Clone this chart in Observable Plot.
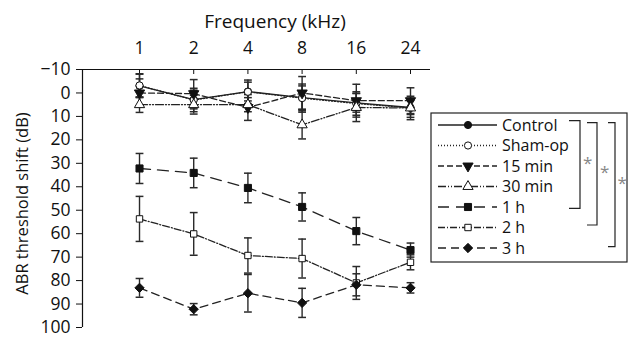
<!DOCTYPE html>
<html><head><meta charset="utf-8">
<script src="https://cdn.jsdelivr.net/npm/d3@7"></script>
<script src="https://cdn.jsdelivr.net/npm/@observablehq/plot@0.6"></script>
<style>body{margin:0;background:#fff;} svg{overflow:visible}</style>
</head><body><div id="chart"></div>
<script>
// ---- data ----
const freqLabels = ["1", "2", "4", "8", "16", "24"];
const seriesNames = ["Control", "Sham-op", "15 min", "30 min", "1 h", "2 h", "3 h"];
const control    = [-3.0, 2.8, -0.6, 2.0, 4.2, 6.2];
const controlErr = [5, 4, 4, 5, 4, 3];
const shamOp     = [-3.2, 3.0, -0.5, 2.2, 4.5, 6.4];
const shamOpErr  = [5, 5, 5, 6, 5, 4];
const min15      = [0, 0.3, 6.2, 0, 3.3, 3.3];
const min15Err   = [6, 6, 5.5, 7, 7, 5.5];
const min30      = [5, 5, 5, 13.6, 6.2, 6.4];
const min30Err   = [3.3, 4, 3, 6, 6, 5];
const h1         = [32.2, 34.1, 40.5, 48.6, 58.9, 67.0];
const h1Err      = [6.4, 6.3, 6.3, 6.0, 5.8, 3.0];
const h2         = [53.7, 60.1, 69.3, 70.6, 81.0, 72.2];
const h2Err      = [9.6, 9.1, 7.5, 8.3, 7.0, 3.2];
const h3         = [83.1, 92.2, 85.4, 89.5, 81.8, 83.1];
const h3Err      = [4.0, 2.4, 8.0, 6.2, 4.7, 2.2];
const yTicks = d3.range(-10, 101, 10);

const seriesValues = [control, shamOp, min15, min30, h1, h2, h3];
const seriesErrs = [controlErr, shamOpErr, min15Err, min30Err, h1Err, h2Err, h3Err];

// ---- styles ----
const FONT = "'Open Sans', Lato, sans-serif";
const triDown = {draw(ctx, size) {
  const y = -Math.sqrt(size / (Math.sqrt(3) * 3)), s3 = Math.sqrt(3);
  ctx.moveTo(0, -2 * y); ctx.lineTo(-s3 * y, y); ctx.lineTo(s3 * y, y); ctx.closePath();
}};
const capSym = {draw(ctx, size) { const w = Math.sqrt(size / Math.PI); ctx.moveTo(-w, 0); ctx.lineTo(w, 0); }};
const styleOf = {
  "Control": {dash: null, symbol: d3.symbolCircle, fill: "#111", r: 3.6},
  "Sham-op": {dash: "1,2", symbol: d3.symbolCircle, fill: "#fff", r: 3.6},
  "15 min":  {dash: "6,3", symbol: triDown, fill: "#111", r: 3.8},
  "30 min":  {dash: "8,2,1,2,1,2", symbol: d3.symbolTriangle, fill: "#fff", r: 3.8},
  "1 h":     {dash: "11,7", symbol: d3.symbolSquare, fill: "#111", r: 4.0},
  "2 h":     {dash: "7,2,1,2", symbol: d3.symbolSquare, fill: "#fff", r: 3.6},
  "3 h":     {dash: "8,5", symbol: d3.symbolDiamond2, fill: "#111", r: 4.2}
};

const rows = [];
seriesNames.forEach((name, si) => {
  seriesValues[si].forEach((v, i) => rows.push({series: name, i, v, e: seriesErrs[si][i]}));
});

const xDomain = [-1.052, 5.369];
const marks = [
  Plot.ruleY([-10], {stroke: "#111", strokeWidth: 1.2}),
  Plot.ruleX([xDomain[0]], {stroke: "#111", strokeWidth: 1.2}),
  Plot.axisY({ticks: yTicks, tickSize: 6, tickPadding: 6, fontSize: 17.5, tickFormat: d => d < 0 ? "\u2212" + (-d) : String(d), label: null}),
  Plot.text(["ABR threshold shift (dB)"], {frameAnchor: "left", textAnchor: "middle", dx: -60, dy: 5, rotate: -90, fontSize: 16.5}),
  Plot.axisX({anchor: "top", ticks: d3.range(6), tickSize: -4, tickFormat: () => "", label: null}),
  Plot.axisX({anchor: "top", ticks: d3.range(6), tickSize: 0, tickPadding: 16, fontSize: 17.5, tickFormat: i => freqLabels[i], label: null}),
  Plot.text(["Frequency (kHz)"], {x: 2.5, y: -10, dy: -48, fontSize: 19})
];
for (const name of seriesNames) {
  const st = styleOf[name];
  const d = rows.filter(r => r.series === name);
  marks.push(Plot.line(d, {x: "i", y: "v", stroke: "#222", strokeWidth: 1.3, strokeDasharray: st.dash}));
}
for (const name of seriesNames) {
  const d = rows.filter(r => r.series === name);
  marks.push(Plot.ruleX(d, {x: "i", y1: r => r.v - r.e, y2: r => r.v + r.e, stroke: "#2a2a2a", strokeWidth: 1.4}));
  marks.push(Plot.dot(d, {x: "i", y: r => r.v - r.e, symbol: capSym, r: 3.9, stroke: "#2a2a2a", strokeWidth: 1.5, fill: "none"}));
  marks.push(Plot.dot(d, {x: "i", y: r => r.v + r.e, symbol: capSym, r: 3.9, stroke: "#2a2a2a", strokeWidth: 1.5, fill: "none"}));
}
for (const name of seriesNames) {
  const st = styleOf[name];
  const d = rows.filter(r => r.series === name);
  marks.push(Plot.dot(d, {x: "i", y: "v", symbol: st.symbol, r: st.r, fill: st.fill, stroke: "#111", strokeWidth: 1}));
}

const chart = Plot.plot({
  width: 630, height: 349,
  marginLeft: 82, marginRight: 200, marginTop: 69, marginBottom: 22,
  style: {fontFamily: FONT, fontSize: "17.5px", color: "#111", background: "#fff"},
  x: {type: "linear", domain: xDomain, axis: null},
  y: {domain: [-10, 100], reverse: true, axis: null},
  marks
});
document.getElementById("chart").appendChild(chart);

// ---- legend (drawn into the same svg) ----
const svg = d3.select(chart);
const lg = svg.append("g").attr("font-family", FONT).attr("font-size", 16).attr("text-anchor", "start");
lg.append("rect").attr("x", 431).attr("y", 113).attr("width", 196).attr("height", 149)
  .attr("fill", "#fff").attr("stroke", "#222").attr("stroke-width", 1.2);
seriesNames.forEach((name, k) => {
  const st = styleOf[name];
  const y = 125 + k * 20.5;
  lg.append("line").attr("x1", 438).attr("x2", 497).attr("y1", y).attr("y2", y)
    .attr("stroke", "#222").attr("stroke-width", 1.3).attr("stroke-dasharray", st.dash);
  lg.append("path").attr("d", d3.symbol(st.symbol, Math.PI * st.r * st.r)())
    .attr("transform", `translate(468,${y})`).attr("fill", st.fill).attr("stroke", "#111");
  lg.append("text").attr("x", 502).attr("y", y).attr("dy", "0.35em").attr("fill", "#111").text(name);
});
const brackets = [
  {x0: 569, x1: 580, y0: 120.7, y1: 208.3, sx: 583, sy: 169},
  {x0: 587, x1: 597, y0: 122.7, y1: 225, sx: 600, sy: 178},
  {x0: 608, x1: 615, y0: 122.7, y1: 246.7, sx: 617.5, sy: 189}
];
brackets.forEach(b => {
  lg.append("path").attr("d", `M${b.x0},${b.y0}H${b.x1}V${b.y1}H${b.x0}`)
    .attr("fill", "none").attr("stroke", "#222").attr("stroke-width", 1.2);
  lg.append("text").attr("x", b.sx).attr("y", b.sy).attr("font-size", 17).attr("fill", "#888").text("*");
});
</script></body></html>
